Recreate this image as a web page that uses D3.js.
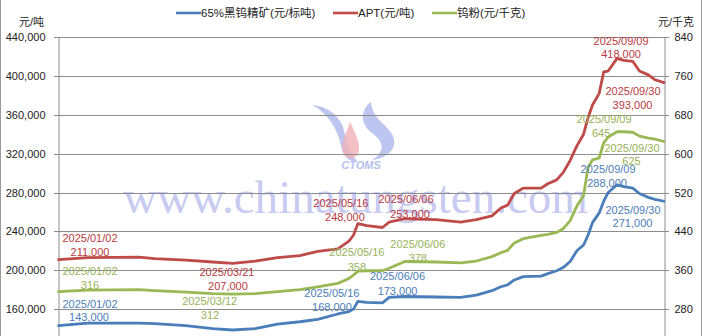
<!DOCTYPE html>
<html>
<head>
<meta charset="utf-8">
<script src="https://cdn.jsdelivr.net/npm/d3@7"></script>
<style>
  html, body { margin: 0; padding: 0; background: #fff; }
  svg { display: block; }
  text { font-family: "Liberation Sans", "Noto Sans CJK SC", sans-serif; }
</style>
</head>
<body>
<svg id="chart" width="702" height="336"></svg>
<script>
// Price history, 2025
const dates = [
  "2025-01-02","2025-01-15","2025-02-07","2025-02-14","2025-02-28","2025-03-12",
  "2025-03-21","2025-03-31","2025-04-10","2025-04-20","2025-04-28","2025-05-07",
  "2025-05-12","2025-05-14","2025-05-16","2025-05-20","2025-05-27","2025-05-30",
  "2025-06-06","2025-06-20","2025-07-01","2025-07-08","2025-07-15","2025-07-19",
  "2025-07-22","2025-07-25","2025-07-29","2025-08-06","2025-08-09","2025-08-13",
  "2025-08-16","2025-08-19","2025-08-22","2025-08-25","2025-08-27","2025-08-29",
  "2025-09-01","2025-09-03","2025-09-05","2025-09-09","2025-09-12","2025-09-16",
  "2025-09-19","2025-09-23","2025-09-26","2025-09-30"
];

// 65% wolframite concentrate, yuan per standard tonne (left axis)
const concentrate = [
  143000,145500,145500,145000,143000,140000,138500,140000,144500,147000,149500,155000,
  157500,160000,168000,167000,166500,172000,173000,172500,172000,174500,179000,183000,
  185000,190000,193500,194000,196500,199500,203000,209000,220000,226000,236000,249000,
  259000,271000,280000,288000,286000,284500,279000,275000,273000,271000
];

// APT, yuan per tonne (left axis)
const apt = [
  211000,213000,213500,212000,210500,208500,207000,209500,213000,215000,219500,222000,
  230000,236000,248000,246000,244000,249500,253000,252000,249500,252000,256000,264000,
  267000,279000,284500,284500,289000,293000,301000,313000,328000,340000,357000,370000,
  382000,404000,405000,418000,416000,415000,405000,401000,396000,393000
];

// Tungsten powder, yuan per kg (right axis)
const powder = [
  316,319,320,318,315,312,311,312,316,320,326,333,
  343,350,358,359,359,364,378,377,375,379,388,396,
  401,416,425,432,434,438,446,462,492,514,572,587,
  591,622,634,645,645,644,636,632,630,625
];

// visible tick values (axes run from 120,000 / 200 at the bottom)
const leftTicks  = [160000,200000,240000,280000,320000,360000,400000,440000];
const rightTicks = [280,360,440,520,600,680,760,840];

const seriesNames = ["65%黑钨精矿(元/标吨)", "APT(元/吨)", "钨粉(元/千克)"];

// Dates whose values are called out on each line
const aptCallouts         = ["2025-01-02","2025-03-21","2025-05-16","2025-06-06","2025-09-09","2025-09-30"];
const powderCallouts      = ["2025-01-02","2025-03-12","2025-05-16","2025-06-06","2025-09-09","2025-09-30"];
const concentrateCallouts = ["2025-01-02","2025-05-16","2025-06-06","2025-09-09","2025-09-30"];

// ---- layout / styling ----
const svg = d3.select("#chart");
const W = 702, H = 336;
const plot = { left: 58.5, right: 664, top: 37, bottom: 348 };
const colors = {
  concentrate: "#4a7ebb", apt: "#be4b48", powder: "#98b954",
  concentrateText: "#4d7db8", aptText: "#b93a3f", powderText: "#98b25a"
};
const gridColor = "#8c8c8c";

const parse = d3.timeParse("%Y-%m-%d");
const x = d3.scaleTime()
  .domain([parse(dates[0]), parse(dates[dates.length - 1])])
  .range([plot.left, plot.right]);
const yL = d3.scaleLinear().domain([120000, 440000]).range([plot.bottom, plot.top]);
const yR = d3.scaleLinear().domain([200, 840]).range([plot.bottom, plot.top]);

// outer frame edges
svg.append("line").attr("x1", 0.5).attr("x2", 0.5).attr("y1", 0).attr("y2", H)
  .attr("stroke", "#9a9a9a");
svg.append("line").attr("x1", W - 0.5).attr("x2", W - 0.5).attr("y1", 0).attr("y2", H)
  .attr("stroke", "#9a9a9a");

// watermark
const wm = svg.append("g").attr("class", "watermark");
wm.append("path")
  .attr("d", "M312,105 C326,112 338,128 341,146 C343,157 349,162 357,161 C349,152 346,138 343,127 C338,114 326,106 312,105 Z")
  .attr("fill", "#a7b1ec").attr("opacity", 0.75);
wm.append("path")
  .attr("d", "M350,122 C355,132 360,142 359,150 C358,157 353,159 349,158 C343,156 341,149 343,142 C345,135 348,128 350,122 Z")
  .attr("fill", "#f3b0b6").attr("opacity", 0.8);
wm.append("path")
  .attr("d", "M371,102 C360,110 360,124 372,133 C384,142 386,151 372,160 C389,158 399,147 392,134 C386,124 372,118 371,102 Z")
  .attr("fill", "#a7b1ec").attr("opacity", 0.75);
wm.append("text")
  .attr("x", 361).attr("y", 169).attr("text-anchor", "middle")
  .attr("font-size", 11).attr("font-style", "italic").attr("font-weight", "bold")
  .attr("fill", "#b6bff0").text("CTOMS");
wm.append("text")
  .attr("x", 123).attr("y", 213)
  .attr("textLength", 465).attr("lengthAdjust", "spacingAndGlyphs")
  .style("font-family", "'Liberation Serif', serif")
  .attr("font-size", 46).attr("fill", "#c2c5f0").attr("opacity", 0.9)
  .text("www.chinatungsten.com");

// horizontal gridlines with ticks on both axes
const grid = svg.append("g");
grid.selectAll("line").data(leftTicks).join("line")
  .attr("x1", plot.left - 4.5).attr("x2", plot.right + 5)
  .attr("y1", d => Math.round(yL(d)) + 0.5).attr("y2", d => Math.round(yL(d)) + 0.5)
  .attr("stroke", gridColor).attr("stroke-width", 1);

// left and right axes via d3.axis
const axisL = svg.append("g").attr("transform", `translate(${Math.round(plot.left) - 0.5},0)`)
  .call(d3.axisLeft(yL).tickValues(leftTicks).tickSize(0).tickPadding(13)
    .tickFormat(d3.format(",")));
axisL.select(".domain").attr("stroke", gridColor);
axisL.selectAll("text").attr("font-size", 11).attr("fill", "#222")
  .style("font-family", "'Liberation Sans', sans-serif");

const axisR = svg.append("g").attr("transform", `translate(${Math.round(plot.right) + 0.5},0)`)
  .call(d3.axisRight(yR).tickValues(rightTicks).tickSize(0).tickPadding(10));
axisR.select(".domain").attr("stroke", gridColor);
axisR.selectAll("text").attr("font-size", 11).attr("fill", "#222")
  .style("font-family", "'Liberation Sans', sans-serif");

// unit captions
svg.append("text").attr("x", 44).attr("y", 26).attr("text-anchor", "end")
  .attr("font-size", 11).attr("fill", "#222").text("元/吨");
svg.append("text").attr("x", 694).attr("y", 26).attr("text-anchor", "end")
  .attr("font-size", 11).attr("fill", "#222").text("元/千克");

// series lines
const rows = dates.map((d, i) => ({
  date: parse(d), concentrate: concentrate[i], apt: apt[i], powder: powder[i]
}));
const lineOf = (key, scale) => d3.line().x(d => x(d.date)).y(d => scale(d[key]));

const linesG = svg.append("g").attr("fill", "none")
  .attr("stroke-linejoin", "round").attr("stroke-linecap", "round");
linesG.append("path").datum(rows).attr("d", lineOf("concentrate", yL))
  .attr("stroke", colors.concentrate).attr("stroke-width", 2.8);
linesG.append("path").datum(rows).attr("d", lineOf("apt", yL))
  .attr("stroke", colors.apt).attr("stroke-width", 2.8);
linesG.append("path").datum(rows).attr("d", lineOf("powder", yR))
  .attr("stroke", colors.powder).attr("stroke-width", 2.8);

// callout placement relative to the data point: [dx, dyDate, dyValue]
const nudges = {
  apt: [[31.5, -21.3, -7.9], [-5.8, 8.3, 22.6], [-17, -20.3, -6.3], [1.2, -19.4, -4.7], [4, -17.7, -4.1], [-31, 8.6, 22.3]],
  powder: [[31.5, -20.6, -6.6], [-3, 7.4, 21.4], [-1, -18.9, -4.5], [13, -17.5, -3.8], [-13, -12.8, 1.5], [-32, 6.2, 19.5]],
  concentrate: [[31.5, -21.6, -8.3], [-26, -8.1, 5.3], [-7.3, -20.5, -5.8], [-9, -15.7, -1.4], [-31, 8.8, 22.1]]
};
const valueNudgeX = {
  apt: [0, 1, 4, 4, 0, -0.5],
  powder: [0, 0.3, 0, 0, -3, -0.5],
  concentrate: [-1, 0, 0, -1, -0.5]
};

function drawCallouts(key, callDates, values, scale, fmt) {
  const g = svg.append("g").attr("fill", colors[key + "Text"])
    .attr("font-size", 11).attr("text-anchor", "middle");
  callDates.forEach((ds, j) => {
    const i = dates.indexOf(ds);
    const v = values[i];
    const px = x(parse(ds)), py = scale(v);
    const [dx, dyD, dyV] = nudges[key][j];
    g.append("text").attr("x", px + dx).attr("y", py + dyD)
      .attr("dy", "0.35em").text(ds.replace(/-/g, "/"));
    g.append("text").attr("x", px + dx + valueNudgeX[key][j]).attr("y", py + dyV)
      .attr("dy", "0.35em").text(fmt(v));
  });
}
drawCallouts("apt", aptCallouts, apt, yL, d3.format(","));
drawCallouts("powder", powderCallouts, powder, yR, d3.format("d"));
drawCallouts("concentrate", concentrateCallouts, concentrate, yL, d3.format(","));

// legend
const legendItems = [
  { name: seriesNames[0], color: colors.concentrate, x: 176 },
  { name: seriesNames[1], color: colors.apt, x: 333 },
  { name: seriesNames[2], color: colors.powder, x: 432 }
];
const lg = svg.append("g");
legendItems.forEach(it => {
  lg.append("line").attr("x1", it.x).attr("x2", it.x + 25).attr("y1", 13).attr("y2", 13)
    .attr("stroke", it.color).attr("stroke-width", 2.6);
  lg.append("text").attr("x", it.x + 25).attr("y", 13).attr("dy", "0.35em")
    .attr("font-size", 11.5).attr("fill", "#222").text(it.name);
});
</script>
</body>
</html>
